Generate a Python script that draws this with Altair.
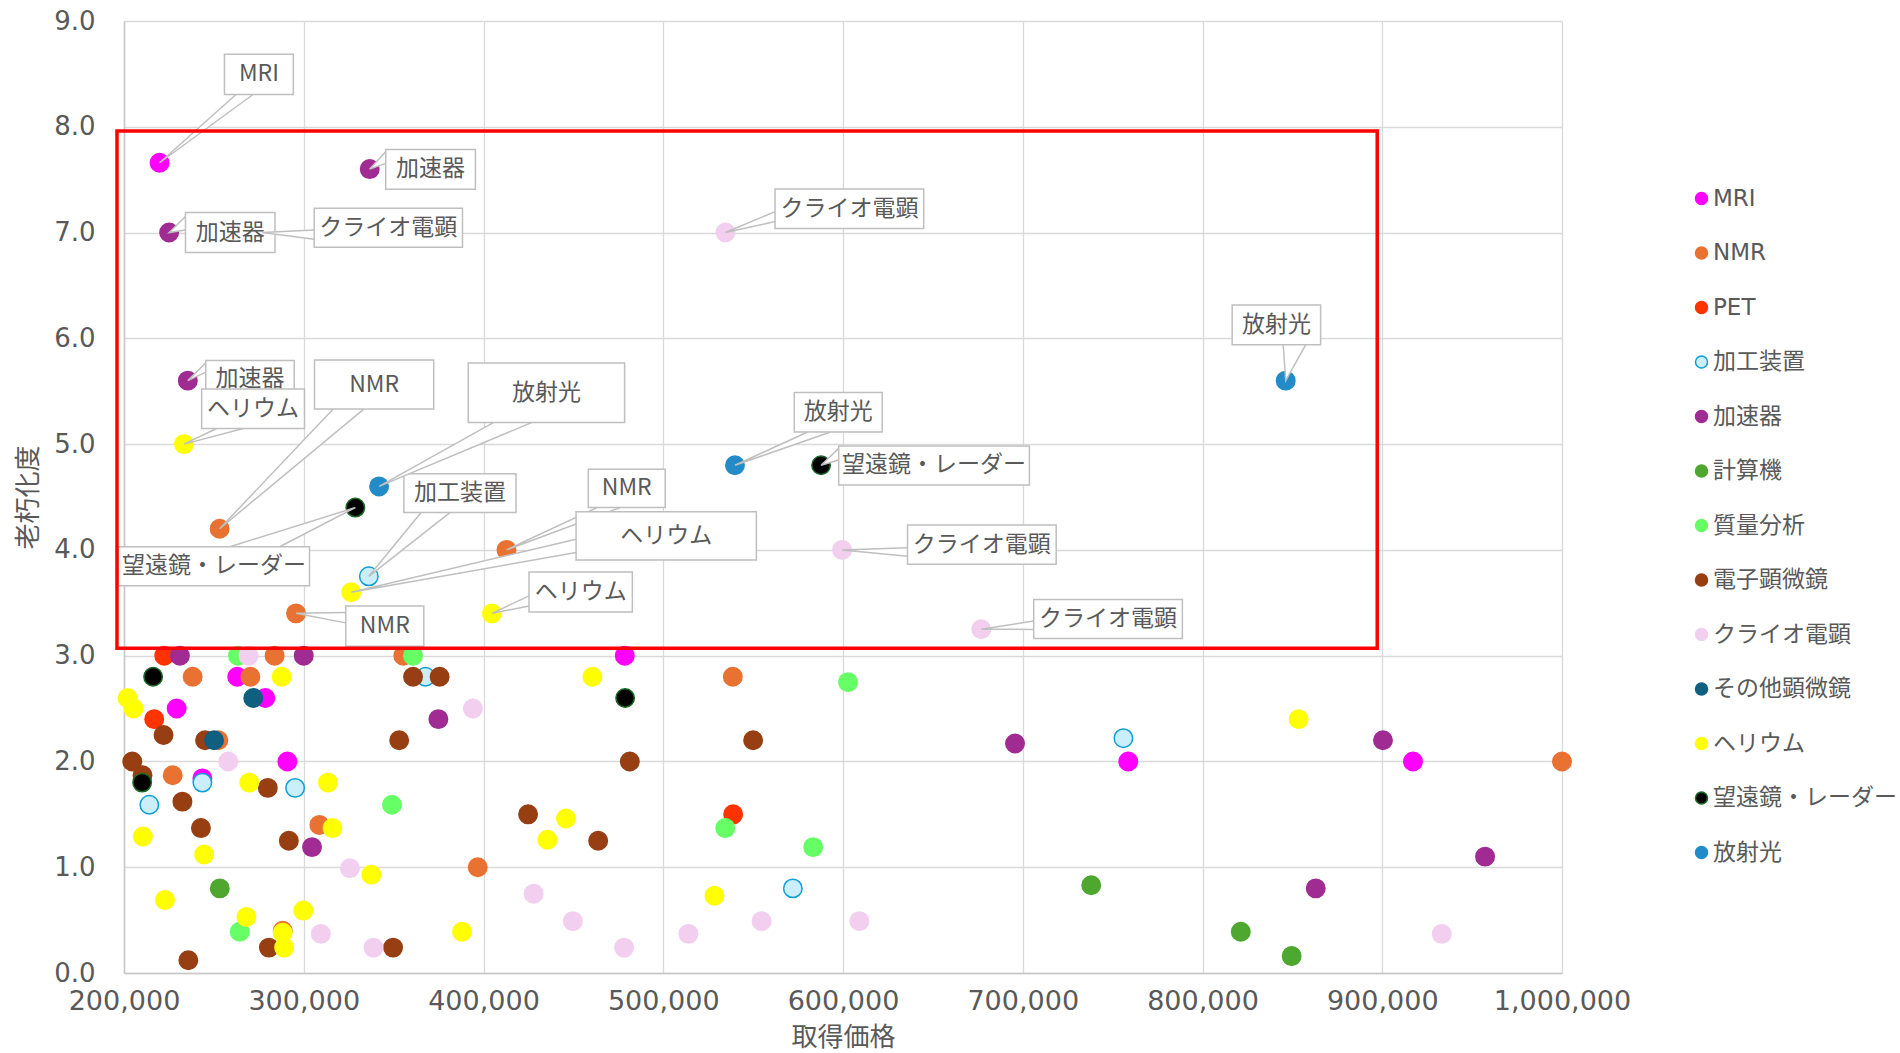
import altair as alt
import pandas as pd

# ---- series definitions -------------------------------------------------
series_names = ["MRI", "NMR", "PET", "加工装置", "加速器", "計算機", "質量分析",
                "電子顕微鏡", "クライオ電顕", "その他顕微鏡", "ヘリウム",
                "望遠鏡・レーダー", "放射光"]
fill_colors = ["#FF00FF", "#E97132", "#FF3300", "#CAEEFB", "#A02B93", "#4EA72E",
               "#66FF66", "#973F12", "#F2CEEF", "#0F5F80", "#FFFF00", "#000000",
               "#238CC8"]
stroke_colors = ["#FF00FF", "#E97132", "#FF3300", "#0F9ED5", "#A02B93", "#4EA72E",
                 "#66FF66", "#973F12", "#F2CEEF", "#0F5F80", "#FFFF00", "#196B24",
                 "#238CC8"]

# ---- acquisition price (取得価格) and deterioration score (老朽化度) ----------
mri_price = [219800, 478600, 263000, 278600, 229300, 290900, 243600, 758700, 917100]
mri_score = [7.66, 3.0, 2.8, 2.6, 2.5, 2.0, 1.84, 2.0, 2.0]

nmr_price = [253200, 412800, 295700, 283800, 355400, 238200, 270300, 252500,
             227100, 308700, 396800, 288300, 538700, 1000000]
nmr_score = [4.2, 4.0, 3.4, 3.0, 3.0, 2.8, 2.8, 2.2, 1.87, 1.40, 1.0, 0.40, 2.8, 2.0]

pet_price = [222400, 216800, 538900]
pet_score = [3.0, 2.4, 1.5]

proc_price = [336200, 367700, 243600, 214100, 295200, 756000, 572100]
proc_score = [3.75, 2.8, 1.80, 1.59, 1.75, 2.22, 0.80]

accel_price = [336700, 225100, 235500, 231100, 300000, 374900, 304600,
               695700, 900400, 957200, 863000]
accel_score = [7.60, 7.0, 5.6, 3.0, 3.0, 2.4, 1.19, 2.17, 2.2, 1.1, 0.8]

comp_price = [253300, 738100, 821300, 849600]
comp_score = [0.80, 0.83, 0.39, 0.16]

mass_price = [263400, 360800, 349100, 264400, 602800, 534500, 583400]
mass_score = [3.0, 3.0, 1.59, 0.39, 2.75, 1.37, 1.19]

em_price = [360800, 375600, 222000, 245100, 353100, 204600, 481400, 210300,
            280000, 232500, 242800, 291700, 424800, 463800, 280600, 235800,
            349700, 550000]
em_score = [2.8, 2.8, 2.25, 2.2, 2.2, 2.0, 2.0, 1.87, 1.75, 1.62, 1.37, 1.25,
            1.5, 1.25, 0.24, 0.12, 0.24, 2.2]

cryo_price = [277000, 534600, 599500, 676900, 269300, 394100, 258000, 325700,
              309500, 338800, 427900, 449700, 478200, 514000, 554700, 609100,
              933100]
cryo_score = [7.0, 7.0, 4.0, 3.25, 3.0, 2.5, 2.0, 0.99, 0.37, 0.24, 0.75, 0.49,
              0.24, 0.37, 0.49, 0.49, 0.37]

other_price = [271900, 250100]
other_score = [2.6, 2.2]

he_price = [233400, 326400, 404700, 287700, 202000, 205300, 269700, 313500,
            210500, 316000, 244600, 337600, 445900, 435600, 222800, 268100,
            299800, 288300, 289100, 388100, 460600, 528500, 853500]
he_score = [5.0, 3.6, 3.4, 2.8, 2.6, 2.5, 1.8, 1.8, 1.29, 1.37, 1.12, 0.93,
            1.46, 1.26, 0.69, 0.53, 0.59, 0.38, 0.24, 0.39, 2.8, 0.73, 2.4]

tele_price = [328700, 587800, 216200, 210100, 478800]
tele_score = [4.4, 4.8, 2.8, 1.8, 2.6]

sr_price = [341900, 539900, 846300]
sr_score = [4.6, 4.8, 5.6]

all_prices = [mri_price, nmr_price, pet_price, proc_price, accel_price, comp_price,
              mass_price, em_price, cryo_price, other_price, he_price, tele_price,
              sr_price]
all_scores = [mri_score, nmr_score, pet_score, proc_score, accel_score, comp_score,
              mass_score, em_score, cryo_score, other_score, he_score, tele_score,
              sr_score]

# ---- data callouts: label, anchor point, box extent, wedge base ----------
co_label = ["MRI", "NMR", "NMR", "NMR", "加工装置", "加速器", "加速器", "加速器",
            "クライオ電顕", "クライオ電顕", "クライオ電顕", "クライオ電顕",
            "ヘリウム", "ヘリウム", "ヘリウム", "望遠鏡・レーダー", "望遠鏡・レーダー",
            "放射光", "放射光", "放射光"]
co_tier = [0, 0, 0, 0, 0, 0, 0, 0, 1, 1, 1, 1, 1, 1, 1, 1, 1, 1, 1, 1]
co_tip_x = [219800, 253200, 412800, 295700, 336200, 336700, 225100, 235500,
            277000, 534600, 599500, 676900, 233400, 326400, 404700, 328700,
            587800, 341900, 539900, 846300]
co_tip_y = [7.66, 4.2, 4.0, 3.4, 3.75, 7.6, 7.0, 5.6, 7.0, 7.0, 4.0, 3.25, 5.0,
            3.6, 3.4, 4.4, 4.8, 4.6, 4.8, 5.6]
co_x1 = [255900, 306000, 458300, 323400, 355700, 345600, 234200, 245500, 305800,
         562200, 635900, 706100, 243200, 451500, 425300, 196800, 597600, 391500,
         572900, 816500]
co_x2 = [294200, 372300, 501100, 366800, 418100, 395500, 284000, 294700, 388300,
         644900, 718600, 788800, 300400, 551800, 482800, 303200, 703700, 478500,
         621800, 865700]
co_y1 = [8.305, 5.331, 4.40, 3.09, 4.353, 7.409, 6.811, 5.45, 6.862, 7.038, 3.865,
         3.163, 5.148, 3.905, 3.413, 3.66, 4.614, 5.205, 5.115, 5.939]
co_y2 = [8.686, 5.795, 4.763, 3.47, 4.72, 7.786, 7.189, 5.79, 7.23, 7.412, 4.236,
         3.531, 5.52, 4.36, 3.79, 4.03, 4.982, 5.767, 5.489, 6.314]
# "h": wedge meets a horizontal box edge, "v": a vertical box edge
co_edge = ["h", "h", "h", "v", "h", "v", "v", "v", "v", "v", "v", "v", "h", "v",
           "v", "h", "v", "h", "h", "h"]
co_b1x = [262300, 316400, 463200, 323400, 365300, 345600, 234200, 245500, 305800,
          562200, 635900, 706100, 251500, 451500, 425300, 258900, 597600, 405700,
          580300, 844900]
co_b1y = [8.305, 5.331, 4.40, 3.31, 4.353, 7.654, 7.025, 5.68, 6.937, 7.104, 3.94,
          3.248, 5.148, 3.975, 3.47, 4.03, 4.85, 5.205, 5.115, 5.939]
co_b2x = [271800, 333400, 476000, 323400, 381300, 345600, 234200, 245500, 305800,
          562200, 635900, 706100, 266400, 451500, 425300, 286600, 597600, 427000,
          593100, 857400]
co_b2y = [8.305, 5.331, 4.40, 3.407, 4.353, 7.764, 7.151, 5.77, 7.025, 7.198, 4.02,
          3.327, 5.148, 4.10, 3.565, 4.03, 4.96, 5.205, 5.115, 5.939]

# highlighted region
frame_x = [196100, 897200]
frame_y = [3.07, 7.96]

# ---- tables ---------------------------------------------------------------
rows = []
for name, xs, ys in zip(series_names, all_prices, all_scores):
    for x, y in zip(xs, ys):
        rows.append({"series": name, "price": x, "score": y})
points = pd.DataFrame(rows)

boxes = pd.DataFrame({
    "id": range(len(co_label)), "label": co_label, "tier": co_tier,
    "x1": co_x1, "x2": co_x2, "y1": co_y1, "y2": co_y2,
})
boxes["cx"] = (boxes.x1 + boxes.x2) / 2
boxes["cy"] = (boxes.y1 + boxes.y2) / 2

wedge_lines, wedge_v, wedge_h = [], [], []
for i in range(len(co_label)):
    t = co_tier[i]
    for k, (x, y) in enumerate([(co_b1x[i], co_b1y[i]), (co_tip_x[i], co_tip_y[i]),
                                (co_b2x[i], co_b2y[i])]):
        wedge_lines.append({"id": i, "tier": t, "k": k, "x": x, "y": y})
    if co_edge[i] == "v":
        wedge_v.append({"id": i, "tier": t, "x": co_tip_x[i], "y": co_tip_y[i], "y2": co_tip_y[i]})
        wedge_v.append({"id": i, "tier": t, "x": co_b1x[i], "y": co_b1y[i], "y2": co_b2y[i]})
    else:
        wedge_h.append({"id": i, "tier": t, "y": co_tip_y[i], "x": co_tip_x[i], "x2": co_tip_x[i]})
        wedge_h.append({"id": i, "tier": t, "y": co_b1y[i], "x": co_b1x[i], "x2": co_b2x[i]})
wedge_lines = pd.DataFrame(wedge_lines)
wedge_v = pd.DataFrame(wedge_v)
wedge_h = pd.DataFrame(wedge_h)

frame = pd.DataFrame({"x1": [frame_x[0]], "x2": [frame_x[1]],
                      "y1": [frame_y[0]], "y2": [frame_y[1]]})

# ---- scales & axes --------------------------------------------------------
TEXT = "#595959"
GRID = "#D9D9D9"
LINE = "#BFBFBF"
CJK = "Noto Sans CJK JP"
LATIN = "DejaVu Sans, Noto Sans CJK JP"

x_scale = alt.Scale(domain=[200000, 1000000], nice=False, zero=False)
y_scale = alt.Scale(domain=[0, 9], nice=False, zero=True)

x_axis = alt.Axis(values=list(range(200000, 1000001, 100000)), format=",d",
                  grid=True, gridColor=GRID, gridWidth=1.3, ticks=False,
                  domainColor="#C8C8C8", domainWidth=1.5,
                  labelFont=LATIN, labelFontSize=27, labelColor=TEXT,
                  labelPadding=15, labelFlush=False, labelOverlap=False,
                  titleFont=CJK, titleFontSize=26, titleColor=TEXT,
                  titleFontWeight="normal", titlePadding=10)
y_axis = alt.Axis(values=list(range(0, 10)), format=".1f",
                  grid=True, gridColor=GRID, gridWidth=1.3, ticks=False,
                  domainColor="#C8C8C8", domainWidth=1.5,
                  labelFont=LATIN, labelFontSize=26, labelColor=TEXT,
                  labelPadding=29, labelFlush=False, labelOverlap=False,
                  titleFont=CJK, titleFontSize=26, titleColor=TEXT,
                  titleFontWeight="normal", titlePadding=12)


def X(field):
    return alt.X(field, type="quantitative", scale=x_scale, axis=x_axis, title="取得価格")


def Y(field):
    return alt.Y(field, type="quantitative", scale=y_scale, axis=y_axis, title="老朽化度")


legend = alt.Legend(orient="none", legendX=1566, legendY=166, title=None,
                    labelFont=LATIN, labelFontSize=23, labelColor=TEXT, labelLimit=0,
                    symbolType="circle", symbolSize=144, symbolStrokeWidth=1.5,
                    rowPadding=30.5, labelOffset=0, padding=0)

# ---- layers ---------------------------------------------------------------
scatter = alt.Chart(points).mark_circle(size=340, strokeWidth=1.5, opacity=1).encode(
    x=X("price"),
    y=Y("score"),
    fill=alt.Fill("series:N", sort=series_names,
                  scale=alt.Scale(domain=series_names, range=fill_colors), legend=legend),
    stroke=alt.Stroke("series:N", sort=series_names,
                      scale=alt.Scale(domain=series_names, range=stroke_colors), legend=legend),
)

layers = [scatter]
for tier in (0, 1):
    wv = wedge_v[wedge_v.tier == tier]
    wh = wedge_h[wedge_h.tier == tier]
    if len(wv):
        layers.append(alt.Chart(wv).mark_area(color="white", orient="vertical").encode(
            x=X("x"), y=Y("y"), y2="y2", detail="id:N"))
    if len(wh):
        layers.append(alt.Chart(wh).mark_area(color="white", orient="horizontal").encode(
            y=Y("y"), x=X("x"), x2="x2", detail="id:N"))
    layers.append(alt.Chart(wedge_lines[wedge_lines.tier == tier]).mark_line(
        color=LINE, strokeWidth=1.5).encode(
        x=X("x"), y=Y("y"), detail="id:N", order="k:Q"))
    bt = boxes[boxes.tier == tier]
    layers.append(alt.Chart(bt).mark_rect(fill="white", stroke=LINE, strokeWidth=1.5).encode(
        x=X("x1"), x2="x2", y=Y("y1"), y2="y2"))
    layers.append(alt.Chart(bt).mark_text(font=CJK, fontSize=23, color=TEXT).encode(
        x=X("cx"), y=Y("cy"), text="label:N"))

layers.append(alt.Chart(frame).mark_rect(filled=False, color="#FF0000", strokeWidth=3.5).encode(
    x=X("x1"), x2="x2", y=Y("y1"), y2="y2"))

chart = alt.layer(*layers).properties(
    width=1438, height=952,
    autosize=alt.AutoSizeParams(type="none"),
    padding={"left": 124, "top": 21, "right": 338, "bottom": 80},
    background="white",
).configure_view(strokeWidth=0)

chart.save("out.html", embed_options={"renderer": "svg", "actions": False})
